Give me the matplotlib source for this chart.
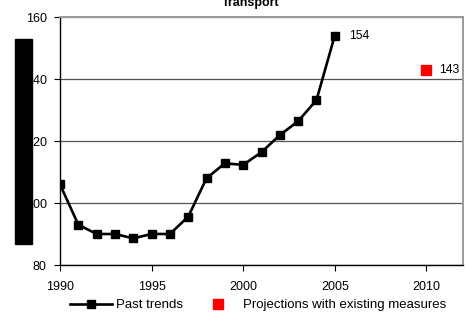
import matplotlib
matplotlib.use("Agg")
import matplotlib.pyplot as plt
from matplotlib.patches import Rectangle
from matplotlib.lines import Line2D

plt.rcParams['font.family'] = ['Liberation Sans', 'DejaVu Sans']

# Transport emissions index (1990 = base)
past_years = [1990, 1991, 1992, 1993, 1994, 1995, 1996, 1997, 1998, 1999,
              2000, 2001, 2002, 2003, 2004, 2005]
past_values = [106, 93, 90, 90, 88.6, 90, 90, 95.6, 108, 112.8,
               112.3, 116.4, 121.9, 126.4, 133.2, 154]
proj_years = [2010]
proj_values = [143]
x_ticks = [1990, 1995, 2000, 2005, 2010]
y_ticks = [80, 100, 120, 140, 160]
title = "Transport"
legend_labels = ["Past trends", "Projections with existing measures"]

fig = plt.figure(figsize=(4.67, 3.23), dpi=100)
ax = fig.add_axes([60 / 467, 1 - 265 / 323, 403 / 467, 248 / 323])

ax.plot(past_years, past_values, color='black', lw=1.9, marker='s',
        markersize=6.2, zorder=3)
ax.plot(proj_years, proj_values, ls='none', marker='s', color='#ff0000',
        markersize=7.8, zorder=3)

ax.annotate(f"{past_values[-1]:g}", (past_years[-1], past_values[-1]),
            xytext=(10, 0), textcoords='offset points', va='center',
            ha='left', fontsize=8.8)
ax.annotate(f"{proj_values[-1]:g}", (proj_years[-1], proj_values[-1]),
            xytext=(9, 0), textcoords='offset points', va='center',
            ha='left', fontsize=8.8)

ax.set_xlim(1990, 2012)
ax.set_ylim(80, 160)
ax.set_xticks(x_ticks)
ax.set_yticks(y_ticks)
ax.tick_params(axis='both', labelsize=9, length=4, width=0.8, color='black')
ax.tick_params(axis='x', pad=7.5)
ax.tick_params(axis='y', pad=5.5)

ax.yaxis.grid(True, color='#555555', lw=0.9)
ax.set_axisbelow(True)
for side in ('left', 'bottom'):
    ax.spines[side].set_color('black')
    ax.spines[side].set_linewidth(1.0)
for side in ('top', 'right'):
    ax.spines[side].set_color('#9a9a9a')
    ax.spines[side].set_linewidth(1.4)

fig.text(251 / 467, 1 - 3 / 323, title, ha='center', va='center',
         fontsize=9, fontweight='bold')

handles = [
    Line2D([], [], color='black', lw=1.9, marker='s', markersize=6.2),
    Line2D([], [], ls='none', marker='s', color='#ff0000', markersize=6.5),
]
fig.legend(handles, legend_labels, loc='center', ncol=2,
           bbox_to_anchor=(258 / 467, 1 - 305 / 323), frameon=False,
           fontsize=9.5, handlelength=3.2, handletextpad=0.3,
           columnspacing=1.0, borderaxespad=0, borderpad=0)

# opaque block over the left axis labels
fig.patches.append(Rectangle((15 / 467, 1 - 244 / 323), 17 / 467, 205 / 323,
                             transform=fig.transFigure, color='black',
                             zorder=5))

fig.savefig("out.png", dpi=100)
